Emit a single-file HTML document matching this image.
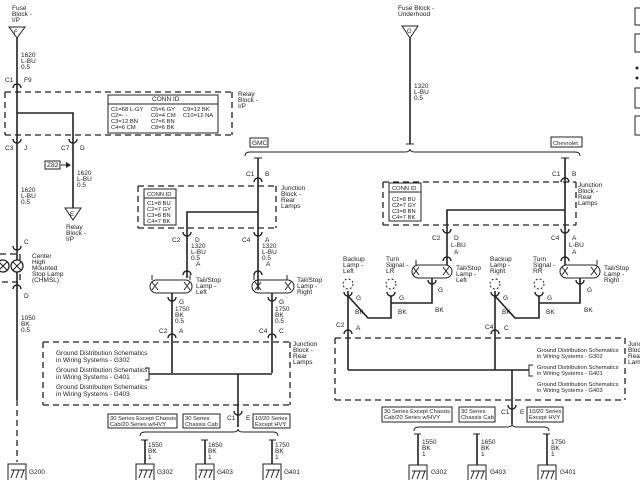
<!DOCTYPE html>
<html><head><meta charset="utf-8"><style>
html,body{margin:0;padding:0;background:#fff}
svg{display:block}
text{font-family:"Liberation Sans",sans-serif;font-size:6.5px;fill:#222}
.s{font-size:5.8px}
.w{stroke:#222;stroke-width:1.6;fill:none}
.t{stroke:#222;stroke-width:1;fill:none}
.d{stroke:#222;stroke-width:1.3;fill:none;stroke-dasharray:6,4}
.c{stroke:#222;stroke-width:1.4;fill:none}
</style></head><body>
<svg width="640" height="480" viewBox="0 0 640 480" xmlns="http://www.w3.org/2000/svg">
<defs>
<g id="cn"><path class="c" d="M-4,2 A4,4 0 0 1 4,2"/></g>
<g id="cu"><path class="c" d="M-4,-2 A4,4 0 0 0 4,-2"/></g>
<g id="gnd"><path class="t" d="M-9,18 V2 H9 V18 M-6,16 L-3,8 M-1,16 L2,8 M4,16 L7,8 M-6,8 H8"/></g>
</defs>

<text x="12" y="10">Fuse</text><text x="12" y="16">Block -</text><text x="12" y="22">I/P</text>
<path class="t" d="M9,27 H25 L17,38 Z"/><text x="14" y="34" style="font-size:6px">F</text>
<path class="w" d="M17,38 V400"/>
<path class="d" d="M17,400 V462"/>
<text x="21" y="57">1620</text><text x="21" y="63">L-BU</text><text x="21" y="69">0.5</text>
<text x="5" y="82">C1</text><text x="24" y="82">F9</text>
<use href="#cn" x="17" y="86"/>
<path class="d" d="M5,92 H232 M5,135 H232 M5,92 V135 M232,92 V135"/>
<text x="238" y="96">Relay</text><text x="238" y="102">Block -</text><text x="238" y="108">I/P</text>
<rect class="t" x="108" y="95" width="110" height="38" fill="#fff" stroke-width="1.3"/>
<path class="t" d="M108,104 H218"/>
<text x="152" y="101">CONN ID</text>
<text x="111" y="111" class="s">C1=68 L-GY</text><text x="151" y="111" class="s">C5=6 GY</text><text x="183" y="111" class="s">C9=12 BK</text>
<text x="111" y="117" class="s">C2=- -</text><text x="151" y="117" class="s">C6=4 CM</text><text x="183" y="117" class="s">C10=12 NA</text>
<text x="111" y="123" class="s">C3=12 BN</text><text x="151" y="123" class="s">C7=6 BN</text>
<text x="111" y="129" class="s">C4=6 CM</text><text x="151" y="129" class="s">C8=6 BK</text>
<path class="w" d="M17,113 H73 V208"/>
<use href="#cu" x="17" y="141"/><use href="#cu" x="73" y="141"/>
<text x="5" y="150">C3</text><text x="24" y="150">J</text>
<text x="61" y="150">C7</text><text x="80" y="150">D</text>
<rect class="t" x="45" y="161" width="15" height="8"/><text x="47" y="167">Z82</text>
<path class="t" d="M61,165 H68"/><path d="M66,162 L71,165 L66,168Z" fill="#222"/>
<text x="77" y="175">1620</text><text x="77" y="181">L-BU</text><text x="77" y="187">0.5</text>
<path class="t" d="M65,208 H81 L73,220 Z"/><text x="70" y="216" style="font-size:6px">E</text>
<text x="66" y="229">Relay</text><text x="66" y="235">Block -</text><text x="66" y="241">I/P</text>
<text x="21" y="192">1620</text><text x="21" y="198">L-BU</text><text x="21" y="204">0.5</text>
<text x="24" y="244">C</text><use href="#cu" x="17" y="248"/>
<path class="d" d="M0,254 H20 V282 H0"/>
<circle cx="3" cy="266" r="6" fill="#fff" stroke="#222" stroke-width="1.3"/>
<circle cx="17" cy="266" r="6" fill="#fff" stroke="#222" stroke-width="1.3"/>
<path class="t" d="M13,262 L21,270 M21,262 L13,270 M-1,262 L7,270 M7,262 L-1,270"/>
<text x="32" y="258">Center</text><text x="32" y="264">High</text><text x="32" y="270">Mounted</text><text x="32" y="276">Stop Lamp</text><text x="32" y="282">(CHMSL)</text>
<use href="#cn" x="17" y="287"/><text x="24" y="298">D</text>
<text x="21" y="320">1050</text><text x="21" y="326">BK</text><text x="21" y="332">0.5</text>
<use href="#gnd" x="17" y="462"/><text x="29" y="474">G200</text>

<text x="398" y="10">Fuse Block -</text><text x="398" y="16">Underhood</text>
<path class="t" d="M402,26 H418 L410,38 Z"/><text x="407" y="33" style="font-size:6px">G</text>
<path class="w" d="M410,38 V144"/><path class="t" d="M406,144 H414"/>
<text x="414" y="88">1320</text><text x="414" y="94">L-BU</text><text x="414" y="100">0.5</text>
<path class="t" d="M245,156 Q245,152 250,152 H405 Q410,152 410,149 Q410,152 415,152 H575 Q580,152 580,156"/>
<rect class="t" x="250" y="138" width="18" height="9"/><text x="252" y="145">GMC</text>
<rect class="t" x="551" y="137" width="31" height="10"/><text x="553" y="145" class="s">Chevrolet</text>

<path class="t" d="M254,158 H262"/>
<path class="w" d="M258,158 V290"/>
<text x="246" y="176">C1</text><text x="265" y="176">B</text>
<use href="#cn" x="258" y="180"/>
<path class="d" d="M138,186 H276 M138,228 H276 M138,186 V228 M276,186 V228"/>
<text x="281" y="190">Junction</text><text x="281" y="196">Block -</text><text x="281" y="202">Rear</text><text x="281" y="208">Lamps</text>
<rect class="t" x="144" y="189" width="32" height="36" stroke-width="1.3"/><path class="t" d="M144,198 H176"/>
<text x="147" y="196" class="s">CONN ID</text>
<text x="147" y="205" class="s">C1=8 BU</text><text x="147" y="211" class="s">C2=7 GY</text><text x="147" y="217" class="s">C3=8 BN</text><text x="147" y="223" class="s">C4=7 BK</text>
<path class="w" d="M258,212 H187 V278"/>
<use href="#cu" x="187" y="234"/><use href="#cu" x="258" y="234"/>
<text x="172" y="242">C2</text><text x="195" y="242">D</text>
<text x="242" y="242">C4</text><text x="265" y="242">A</text>
<text x="191" y="248">1320</text><text x="191" y="254">L-BU</text><text x="191" y="260">0.5</text><text x="196" y="266">A</text>
<text x="262" y="248">1320</text><text x="262" y="254">L-BU</text><text x="262" y="260">0.5</text><text x="266" y="266">A</text>
<use href="#cn" x="187" y="273"/><use href="#cn" x="258" y="273"/>
<rect class="t" x="150" y="280" width="42" height="13" rx="6.5" stroke-width="1.3"/>
<path class="t" d="M152,275 V280 M190,275 V280 M254,275 V280 M287,275 V280"/>
<rect class="t" x="252" y="280" width="42" height="13" rx="6.5" stroke-width="1.3"/>
<path class="t" d="M152,282 L158,290 M158,282 L152,290 M184,282 L190,290 M190,282 L184,290 M255,282 L261,290 M261,282 L255,290 M285,282 L291,290 M291,282 L285,290"/>
<text x="196" y="282">Tail/Stop</text><text x="196" y="288">Lamp -</text><text x="196" y="294">Left</text>
<text x="297" y="282">Tail/Stop</text><text x="297" y="288">Lamp -</text><text x="297" y="294">Right</text>
<path class="w" d="M172,293 V373 M272,293 V373"/>
<use href="#cu" x="172" y="299"/><use href="#cu" x="272" y="299"/>
<text x="179" y="304">G</text><text x="279" y="304">G</text>
<text x="175" y="311">1750</text><text x="175" y="317">BK</text><text x="175" y="323">0.5</text>
<text x="275" y="311">1750</text><text x="275" y="317">BK</text><text x="275" y="323">0.5</text>
<text x="159" y="333">C2</text><text x="179" y="333">A</text><text x="259" y="333">C4</text><text x="279" y="333">C</text>
<use href="#cn" x="172" y="336"/><use href="#cn" x="272" y="336"/>
<path class="d" d="M43,342 H290 M43,405 H290 M43,342 V405 M290,342 V405"/>
<text x="293" y="346">Junction</text><text x="293" y="352">Block -</text><text x="293" y="358">Rear</text><text x="293" y="364">Lamps</text>
<text x="56" y="355">Ground Distribution Schematics</text><text x="56" y="362">in Wiring Systems - G302</text>
<text x="56" y="372">Ground Distribution Schematics</text><text x="56" y="379">in Wiring Systems - G401</text>
<text x="56" y="389">Ground Distribution Schematics</text><text x="56" y="396">in Wiring Systems - G403</text>
<path class="t" d="M145,368 H149 V380 H145"/>
<path class="w" d="M149,374 H272 M238,374 V427"/>
<use href="#cu" x="238" y="413"/><text x="227" y="420">C1</text><text x="246" y="420">E</text>
<rect class="t" x="108" y="414" width="69" height="14"/><text x="110" y="420" class="s">30 Series Except Chassis</text><text x="110" y="426" class="s">Cab/20 Series w/HVY</text>
<rect class="t" x="183" y="414" width="37" height="14"/><text x="185" y="420" class="s">30 Series</text><text x="185" y="426" class="s">Chassis Cab</text>
<rect class="t" x="253" y="414" width="37" height="14"/><text x="255" y="420" class="s">10/20 Series</text><text x="255" y="426" class="s">Except HVY</text>
<path class="t" d="M140,436 Q140,432 145,432 H233 Q238,432 238,429 Q238,432 243,432 H273 Q278,432 278,436"/>
<path class="t" d="M141,440 H148 M201,440 H208 M269,440 H276"/>
<path class="w" d="M145,440 V464 M205,440 V464 M272,440 V464"/>
<text x="148" y="447">1550</text><text x="148" y="453">BK</text><text x="148" y="459">1</text>
<text x="208" y="447">1650</text><text x="208" y="453">BK</text><text x="208" y="459">1</text>
<text x="275" y="447">1750</text><text x="275" y="453">BK</text><text x="275" y="459">1</text>
<use href="#gnd" x="145" y="462"/><text x="157" y="474">G302</text>
<use href="#gnd" x="205" y="462"/><text x="217" y="474">G403</text>
<use href="#gnd" x="272" y="462"/><text x="284" y="474">G401</text>

<path class="t" d="M561,158 H569"/>
<path class="w" d="M565,158 V265"/>
<text x="552" y="176">C1</text><text x="572" y="176">B</text>
<use href="#cn" x="565" y="180"/>
<path class="d" d="M383,182 H576 M383,225 H576 M383,182 V225 M576,182 V225"/>
<text x="578" y="187">Junction</text><text x="578" y="193">Block -</text><text x="578" y="199">Rear</text><text x="578" y="205">Lamps</text>
<rect class="t" x="389" y="183" width="32" height="38" stroke-width="1.3"/><path class="t" d="M389,192 H421"/>
<text x="392" y="190" class="s">CONN ID</text>
<text x="392" y="201" class="s">C1=8 BU</text><text x="392" y="207" class="s">C2=7 GY</text><text x="392" y="213" class="s">C3=8 BN</text><text x="392" y="219" class="s">C4=7 BK</text>
<path class="w" d="M565,210 H447 V265"/>
<use href="#cu" x="447" y="231"/><use href="#cu" x="565" y="231"/>
<text x="432" y="240">C2</text><text x="454" y="240">D</text><text x="551" y="240">C4</text><text x="572" y="240">A</text>
<text x="451" y="247">L-BU</text><text x="454" y="254">A</text>
<text x="569" y="247">L-BU</text><text x="572" y="254">A</text>
<use href="#cn" x="447" y="259"/><use href="#cn" x="565" y="259"/>
<rect class="t" x="412" y="265" width="40" height="13" rx="6.5" stroke-width="1.3"/>
<rect class="t" x="560" y="265" width="40" height="13" rx="6.5" stroke-width="1.3"/>
<path class="t" d="M416,260 V265 M597,260 V265 M413,267 L419,275 M419,267 L413,275 M443,267 L449,275 M449,267 L443,275 M562,267 L568,275 M568,267 L562,275 M591,267 L597,275 M597,267 L591,275"/>
<text x="456" y="270">Tail/Stop</text><text x="456" y="276">Lamp -</text><text x="456" y="282">Left</text>
<text x="604" y="270">Tail/Stop</text><text x="604" y="276">Lamp -</text><text x="604" y="282">Right</text>
<text x="343" y="261">Backup</text><text x="343" y="267">Lamp -</text><text x="343" y="273">Left</text>
<text x="386" y="261">Turn</text><text x="386" y="267">Signal -</text><text x="386" y="273">LR</text>
<text x="490" y="261">Backup</text><text x="490" y="267">Lamp -</text><text x="490" y="273">Right</text>
<text x="533" y="261">Turn</text><text x="533" y="267">Signal -</text><text x="533" y="273">RR</text>
<circle cx="348" cy="284" r="5" fill="none" stroke="#222" stroke-dasharray="2,2"/>
<circle cx="391" cy="284" r="5" fill="none" stroke="#222" stroke-dasharray="2,2"/>
<circle cx="495" cy="284" r="5" fill="none" stroke="#222" stroke-dasharray="2,2"/>
<circle cx="539" cy="284" r="5" fill="none" stroke="#222" stroke-dasharray="2,2"/>
<path class="w" d="M348,291 V370 M348,296 L368,318 H391 V296 M391,303 H432 V278"/>
<path class="w" d="M495,291 V370 M495,296 L515,318 H539 V296 M539,303 H580 V278"/>
<use href="#cu" x="348" y="294"/><use href="#cu" x="391" y="294"/><use href="#cu" x="432" y="282"/>
<use href="#cu" x="495" y="294"/><use href="#cu" x="539" y="294"/><use href="#cu" x="580" y="282"/>
<text x="356" y="300">G</text><text x="399" y="300">G</text><text x="438" y="292">G</text>
<text x="503" y="300">G</text><text x="547" y="300">G</text><text x="587" y="292">G</text>
<text x="435" y="312">BK</text><text x="398" y="314">BK</text><text x="355" y="314">BK</text>
<text x="584" y="312">BK</text><text x="546" y="314">BK</text><text x="502" y="314">BK</text>
<text x="336" y="327">C2</text><text x="356" y="330">A</text><text x="485" y="329">C4</text><text x="504" y="330">C</text>
<use href="#cn" x="348" y="332"/><use href="#cn" x="495" y="332"/>
<path class="d" d="M335,338 H625 M335,400 H625 M335,338 V400 M625,338 V400"/>
<text x="628" y="346">Junc</text><text x="628" y="352">Bloc</text><text x="628" y="358">Rea</text><text x="628" y="364">Lam</text>
<text x="537" y="352" class="s">Ground Distribution Schematics</text><text x="537" y="358" class="s">in Wiring Systems - G302</text>
<text x="537" y="369" class="s">Ground Distribution Schematics</text><text x="537" y="375" class="s">in Wiring Systems - G401</text>
<text x="537" y="386" class="s">Ground Distribution Schematics</text><text x="537" y="392" class="s">in Wiring Systems - G403</text>
<path class="t" d="M533,365 H529 V376 H533"/>
<path class="w" d="M348,370 H529 M512,370 V424"/>
<use href="#cu" x="512" y="407"/><text x="501" y="414">C1</text><text x="520" y="414">E</text>
<rect class="t" x="382" y="407" width="70" height="15"/><text x="384" y="413" class="s">30 Series Except Chassis</text><text x="384" y="419" class="s">Cab/20 Series w/HVY</text>
<rect class="t" x="459" y="407" width="36" height="15"/><text x="461" y="413" class="s">30 Series</text><text x="461" y="419" class="s">Chassis Cab</text>
<rect class="t" x="527" y="407" width="36" height="15"/><text x="529" y="413" class="s">10/20 Series</text><text x="529" y="419" class="s">Except HVY</text>
<path class="t" d="M414,431 Q414,427 419,427 H507 Q512,427 512,424 Q512,427 517,427 H544 Q549,427 549,431"/>
<path class="t" d="M414,434 H421 M473,434 H480 M543,434 H550"/>
<path class="w" d="M418,434 V465 M477,434 V465 M547,434 V465"/>
<text x="422" y="444">1550</text><text x="422" y="450">BK</text><text x="422" y="456">1</text>
<text x="481" y="444">1650</text><text x="481" y="450">BK</text><text x="481" y="456">1</text>
<text x="551" y="444">1750</text><text x="551" y="450">BK</text><text x="551" y="456">1</text>
<use href="#gnd" x="418" y="463"/><text x="431" y="474">G302</text>
<use href="#gnd" x="477" y="463"/><text x="490" y="474">G403</text>
<use href="#gnd" x="547" y="463"/><text x="560" y="474">G401</text>

<path class="t" d="M640,8 H635 V25 H640 M640,34 H635 V52 H640 M640,88 H635 V108 H640 M640,116 H635 V135 H640"/>
<circle cx="637" cy="68" r="1.5" fill="#222"/><circle cx="637" cy="78" r="1.5" fill="#222"/>
</svg>
</body></html>
